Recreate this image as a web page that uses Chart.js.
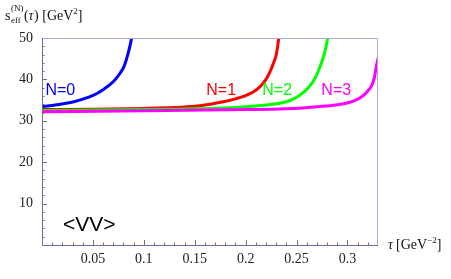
<!DOCTYPE html>
<html>
<head>
<meta charset="utf-8">
<script src="https://cdn.jsdelivr.net/npm/chart.js@4/dist/chart.umd.min.js"></script>
<style>
  html, body { margin: 0; padding: 0; background: #fff; }
  #chart { display: block; }
</style>
</head>
<body>
<canvas id="chart" width="451" height="279"></canvas>
<script>
// ---- data ----
const seriesLabels = ["N=0", "N=1", "N=2", "N=3"];
const seriesColors = ["#0000ff", "#ff0000", "#00ff00", "#ff00ff"];

const tau0 = [0, 0.01, 0.018, 0.028, 0.037, 0.046, 0.054, 0.061, 0.067, 0.072, 0.077, 0.0805, 0.0825, 0.0845, 0.0864, 0.088, 0.0888];
const sEff0 = [33.4, 33.7, 34.0, 34.4, 35.0, 35.7, 36.6, 37.7, 38.8, 40.0, 41.6, 43.1, 44.5, 46.2, 48.1, 50.0, 51.0];

const tau1 = [0, 0.05, 0.1, 0.13, 0.15, 0.165, 0.178, 0.19, 0.198, 0.207, 0.214, 0.22, 0.224, 0.2275, 0.23, 0.2315, 0.2325, 0.2332];
const sEff1 = [32.7, 32.8, 33.0, 33.2, 33.5, 34.0, 34.6, 35.3, 35.9, 36.9, 38.2, 40.0, 41.9, 44.0, 45.9, 48.0, 50.0, 51.0];

const tau2 = [0, 0.1, 0.15, 0.195, 0.215, 0.23, 0.24, 0.248, 0.255, 0.262, 0.268, 0.272, 0.276, 0.2785, 0.2806, 0.2813];
const sEff2 = [32.5, 32.7, 32.9, 33.3, 33.7, 34.1, 34.6, 35.4, 36.5, 38.1, 40.2, 42.4, 45.1, 47.4, 50.0, 51.0];

const tau3 = [0, 0.1, 0.2, 0.239, 0.271, 0.2976, 0.307, 0.314, 0.32, 0.324, 0.3265, 0.328, 0.3297, 0.3305];
const sEff3 = [32.2, 32.4, 32.7, 32.9, 33.4, 34.2, 34.9, 35.8, 37.2, 38.6, 40.5, 42.7, 44.7, 45.5];

const xTickValues = [0.05, 0.1, 0.15, 0.2, 0.25, 0.3];
const yTickValues = [10, 20, 30, 40, 50];
const labelPos = [[0.018, 37.3], [0.176, 37.3], [0.231, 37.3], [0.289, 37.3]];

const allTau = [tau0, tau1, tau2, tau3];
const allS = [sEff0, sEff1, sEff2, sEff3];

const xMin = 0, xMax = 0.33, yMin = 0, yMax = 50;

const datasets = allTau.map((t, i) => ({
    label: seriesLabels[i],
    data: t.map((x, j) => ({ x: x, y: allS[i][j] })),
    borderColor: seriesColors[i],
    borderWidth: 3,
    pointRadius: 0,
    showLine: true,
    fill: false,
    cubicInterpolationMode: "monotone",
    order: 3 - i
}));

/* ===== frame, inward ticks, texts ===== */
const framePlugin = {
    id: "frame",
    afterDatasetsDraw(chart) {
        const ctx = chart.ctx;
        const a = chart.chartArea;
        const xs = chart.scales.x, ys = chart.scales.y;

        ctx.save();
        // light top/right frame
        ctx.strokeStyle = "#aaaadd";
        ctx.lineWidth = 1;
        ctx.beginPath();
        ctx.moveTo(a.left, a.top + 0.5);
        ctx.lineTo(a.right - 0.5, a.top + 0.5);
        ctx.lineTo(a.right - 0.5, a.bottom);
        ctx.stroke();

        // darker axes
        ctx.strokeStyle = "#6e6e96";
        ctx.beginPath();
        ctx.moveTo(a.left + 0.5, a.top);
        ctx.lineTo(a.left + 0.5, a.bottom + 0.5);
        ctx.lineTo(a.right, a.bottom + 0.5);
        ctx.stroke();

        // y ticks, minor every 2
        ctx.beginPath();
        for (let v = 2; v < yMax; v += 2) {
            const y = Math.round(ys.getPixelForValue(v)) + 0.5;
            const len = v % 10 === 0 ? 5 : 2.5;
            ctx.moveTo(a.left, y);
            ctx.lineTo(a.left + len, y);
        }
        // x ticks, minor every 0.01
        for (let k = 1; k * 0.01 < xMax; k++) {
            const x = Math.round(xs.getPixelForValue(k * 0.01)) + 0.5;
            const len = k % 5 === 0 ? 5 : 2.5;
            ctx.moveTo(x, a.bottom);
            ctx.lineTo(x, a.bottom - len);
        }
        ctx.stroke();

        // curve labels
        ctx.font = "16px 'Liberation Sans', Arial, sans-serif";
        ctx.textAlign = "center";
        ctx.textBaseline = "middle";
        labelPos.forEach((p, i) => {
            ctx.fillStyle = seriesColors[i];
            ctx.fillText(seriesLabels[i], xs.getPixelForValue(p[0]), ys.getPixelForValue(p[1]));
        });

        // <VV>
        ctx.fillStyle = "#000";
        ctx.font = "21px 'Liberation Sans', Arial, sans-serif";
        ctx.textAlign = "left";
        ctx.textBaseline = "alphabetic";
        ctx.fillText("<VV>", a.left + 21, a.bottom - 14);

        // y title: s_eff^(N)(tau) [GeV^2]
        const serif = "'Liberation Serif', 'Times New Roman', serif";
        let x = 5;
        const base = 20;
        ctx.fillStyle = "#111";
        ctx.font = "14px " + serif;
        ctx.fillText("s", x, base);
        x += ctx.measureText("s").width + 0.5;
        ctx.font = "9px " + serif;
        ctx.fillText("(N)", x, base - 9);
        ctx.fillText("eff", x, base + 3);
        x += ctx.measureText("(N)").width + 0.5;
        ctx.font = "14px " + serif;
        ctx.fillText("(", x, base);
        x += ctx.measureText("(").width;
        ctx.font = "italic 14px " + serif;
        ctx.fillText("τ", x, base);
        x += ctx.measureText("τ").width + 0.5;
        ctx.font = "14px " + serif;
        ctx.fillText(") [GeV", x, base);
        x += ctx.measureText(") [GeV").width;
        ctx.font = "9px " + serif;
        ctx.fillText("2", x, base - 6);
        x += ctx.measureText("2").width;
        ctx.font = "14px " + serif;
        ctx.fillText("]", x, base);

        // x title: tau [GeV^-2]
        x = a.right + 10;
        const xb = a.bottom + 4;
        ctx.font = "italic 14px " + serif;
        ctx.fillText("τ", x, xb);
        x += ctx.measureText("τ").width + 3;
        ctx.font = "14px " + serif;
        ctx.fillText("[GeV", x, xb);
        x += ctx.measureText("[GeV").width;
        ctx.font = "9px " + serif;
        ctx.fillText("−2", x, xb - 6);
        x += ctx.measureText("−2").width;
        ctx.font = "14px " + serif;
        ctx.fillText("]", x, xb);

        ctx.restore();
    }
};

new Chart(document.getElementById("chart"), {
    type: "scatter",
    data: { datasets: datasets },
    options: {
        responsive: false,
        animation: false,
        devicePixelRatio: 1,
        layout: { padding: { top: 38, right: 73, left: 0, bottom: 0 } },
        plugins: {
            legend: { display: false },
            tooltip: { enabled: false }
        },
        scales: {
            x: {
                type: "linear",
                min: xMin,
                max: xMax,
                grid: { display: false, drawTicks: false },
                border: { display: false },
                afterBuildTicks: s => { s.ticks = xTickValues.map(v => ({ value: v })); },
                afterFit: s => { s.height = 34; },
                ticks: {
                    padding: 6,
                    color: "#222",
                    maxRotation: 0,
                    autoSkip: false,
                    font: { family: "'Liberation Serif', 'Times New Roman', serif", size: 14 },
                    callback: v => String(v)
                }
            },
            y: {
                type: "linear",
                min: yMin,
                max: yMax,
                grid: { display: false, drawTicks: false },
                border: { display: false },
                afterBuildTicks: s => { s.ticks = yTickValues.map(v => ({ value: v })); },
                afterFit: s => { s.width = 42; },
                ticks: {
                    padding: 9,
                    color: "#222",
                    autoSkip: false,
                    font: { family: "'Liberation Serif', 'Times New Roman', serif", size: 14 }
                }
            }
        }
    },
    plugins: [framePlugin]
});
</script>
</body>
</html>
